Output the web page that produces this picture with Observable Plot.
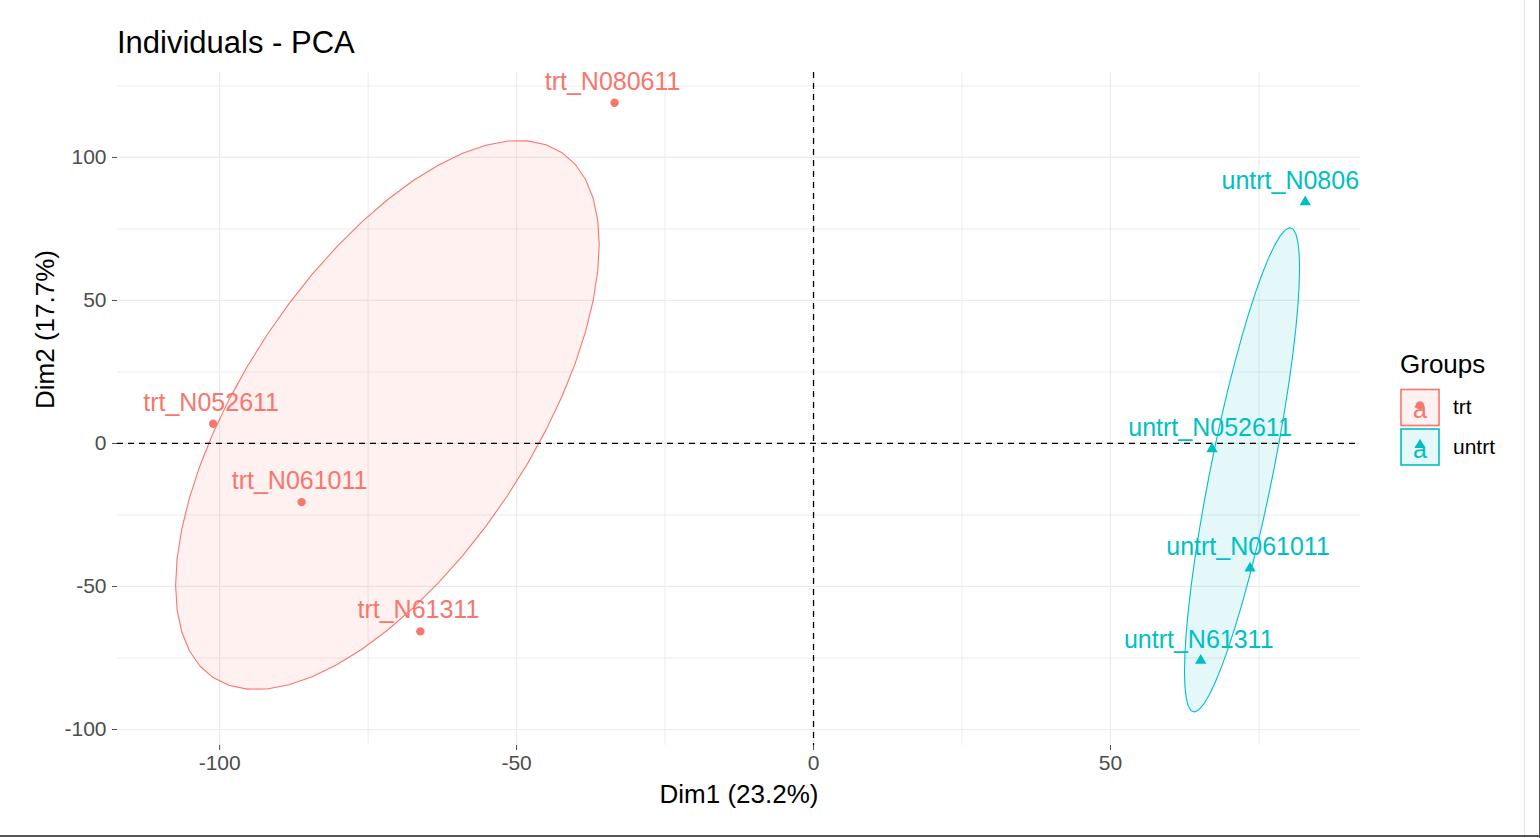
<!DOCTYPE html>
<html>
<head>
<meta charset="utf-8">
<script src="https://cdn.jsdelivr.net/npm/d3@7"></script>
<script src="https://cdn.jsdelivr.net/npm/@observablehq/plot@0.6"></script>
<style>
  body { margin: 0; background: #fff; font-family: "Liberation Sans", Arial, sans-serif; }
  #wrap { position: relative; width: 1540px; height: 838px; overflow: hidden; background: #fff; }
  #titlebox { position: relative; height: 65px; }
  #title { position: absolute; left: 117px; top: 28px; font-size: 31px; line-height: 30px; color: #000; white-space: nowrap; }
  #legend { position: absolute; left: 1390px; top: 340px; }
  .edge { position: absolute; }
</style>
</head>
<body>
<div id="wrap">
  <div id="titlebox"><div id="title">Individuals - PCA</div></div>
  <div id="chart"></div>
  <div id="legend"></div>
  <div class="edge" style="left:1524px;top:0;width:1px;height:838px;background:#e6e6e6"></div>
  <div class="edge" style="left:1539px;top:0;width:1px;height:838px;background:#555"></div>
  <div class="edge" style="left:0;top:835px;width:1540px;height:2px;background:#555"></div>
</div>
<script>
// ---- data ----
const sampleNames = ["trt_N080611", "trt_N052611", "trt_N061011", "trt_N61311",
                     "untrt_N080611", "untrt_N052611", "untrt_N061011", "untrt_N61311"];
const sampleGroups = ["trt", "trt", "trt", "trt", "untrt", "untrt", "untrt", "untrt"];
const dim1 = [-33.5, -101.1, -86.2, -66.2, 82.8, 67.1, 73.5, 65.2];
const dim2 = [119.1, 6.9, -20.5, -65.7, 84.4, -1.9, -43.6, -75.9];
const groupNames = ["trt", "untrt"];
const groupColors = ["#F8766D", "#00BFC4"];
const groupSymbols = ["circle", "triangle"];
const xTicks = [-100, -50, 0, 50];
const xMinor = [-75, -25, 25, 75];
const yTicks = [-100, -50, 0, 50, 100];
const yMinor = [-75, -25, 25, 75, 125];
const xLabel = "Dim1 (23.2%)";
const yLabel = "Dim2 (17.7%)";
const legendTitle = "Groups";
const ellipseScale = 1.22;
const ellipseSegments = 52;

const rows = sampleNames.map((name, i) => ({name, group: sampleGroups[i], x: dim1[i], y: dim2[i]}));
const colorOf = g => groupColors[groupNames.indexOf(g)];

// covariance ellipse around the group mean (like stat_ellipse)
function ellipseFor(g) {
  const pts = rows.filter(d => d.group === g);
  const n = pts.length;
  const mx = d3.mean(pts, d => d.x), my = d3.mean(pts, d => d.y);
  let sxx = 0, syy = 0, sxy = 0;
  for (const p of pts) { sxx += (p.x - mx) ** 2; syy += (p.y - my) ** 2; sxy += (p.x - mx) * (p.y - my); }
  sxx /= n - 1; syy /= n - 1; sxy /= n - 1;
  const l11 = Math.sqrt(sxx), l21 = sxy / l11, l22 = Math.sqrt(syy - l21 * l21);
  const out = [];
  for (let k = 0; k <= ellipseSegments; k++) {
    const t = 2 * Math.PI * k / ellipseSegments, u = Math.cos(t), v = Math.sin(t);
    out.push({x: mx + ellipseScale * l11 * u, y: my + ellipseScale * (l21 * u + l22 * v)});
  }
  return out;
}

const fmt = d => String(d);
const gridStyle = {stroke: "#ebebeb", strokeOpacity: 1, strokeWidth: 1.2};

const marks = [
  Plot.gridX(xMinor, {...gridStyle, strokeWidth: 1}),
  Plot.gridY(yMinor, {...gridStyle, strokeWidth: 1}),
  Plot.gridX(xTicks, gridStyle),
  Plot.gridY(yTicks, gridStyle),
  ...groupNames.map(g => Plot.line(ellipseFor(g), {
    x: "x", y: "y", fill: colorOf(g), fillOpacity: 0.1, stroke: colorOf(g), strokeWidth: 1.1
  })),
  Plot.ruleX([0], {stroke: "#000", strokeDasharray: "6,5", strokeWidth: 1.3}),
  Plot.ruleY([0], {stroke: "#000", strokeDasharray: "6,5", strokeWidth: 1.3}),
  Plot.dot(rows, {x: "x", y: "y", fill: "group", symbol: "group", r: 4.2, stroke: null}),
  Plot.text(rows, {x: "x", y: "y", text: "name", fill: "group", fontSize: 25, dy: -21, dx: -2,
                   textAnchor: "middle", lineAnchor: "middle", clip: true}),
  Plot.axisX({ticks: xTicks, tickFormat: fmt, tickSize: 5, tickPadding: 5, fontSize: 21,
              color: "#4d4d4d", label: null}),
  Plot.axisY({ticks: yTicks, tickFormat: fmt, tickSize: 5, tickPadding: 6, fontSize: 21,
              color: "#4d4d4d", label: null}),
  Plot.text([xLabel], {text: d => d, frameAnchor: "bottom", dy: 49, fontSize: 26, fill: "#000",
                       lineAnchor: "middle"}),
  Plot.text([yLabel], {text: d => d, frameAnchor: "left", dx: -72, rotate: -90, fontSize: 26,
                       fill: "#000", lineAnchor: "middle"})
];

const chart = Plot.plot({
  width: 1540,
  height: 773,
  marginLeft: 117,
  marginRight: 180,
  marginTop: 7,
  marginBottom: 93,
  x: {domain: [-117.2, 92.1]},
  y: {domain: [-105.6, 129.7]},
  color: {domain: groupNames, range: groupColors},
  symbol: {domain: groupNames, range: groupSymbols},
  style: {fontFamily: "'Liberation Sans', Arial, sans-serif", background: "#fff", overflow: "visible"},
  marks
});
document.getElementById("chart").appendChild(chart);

// legend (HTML/SVG, outside the plot)
const L = d3.select("#legend").append("svg").attr("width", 140).attr("height", 140)
  .style("font-family", "'Liberation Sans', Arial, sans-serif");
L.append("text").attr("x", 10).attr("y", 26).attr("dominant-baseline", "middle")
  .attr("font-size", 26).attr("fill", "#000").text(legendTitle);
groupNames.forEach((g, i) => {
  const y0 = 49.5 + i * 39.5;
  const c = groupColors[i];
  const k = L.append("g");
  k.append("rect").attr("x", 11).attr("y", y0).attr("width", 38).attr("height", 36)
    .attr("fill", c).attr("fill-opacity", 0.1).attr("stroke", c).attr("stroke-width", 1.6);
  k.append("text").attr("x", 30).attr("y", y0 + 22).attr("text-anchor", "middle")
    .attr("dominant-baseline", "middle").attr("font-size", 25).attr("fill", c)
    .style("font-family", "'Liberation Sans', Arial, sans-serif").text("a");
  const sym = d3.symbol().type(i === 0 ? d3.symbolCircle : d3.symbolTriangle).size(i === 0 ? 55 : 50);
  k.append("path").attr("d", sym()).attr("transform", `translate(30,${y0 + 16})`).attr("fill", c);
  L.append("text").attr("x", 63).attr("y", y0 + 19).attr("dominant-baseline", "middle")
    .attr("font-size", 21).attr("fill", "#000").text(g);
});
</script>
</body>
</html>
